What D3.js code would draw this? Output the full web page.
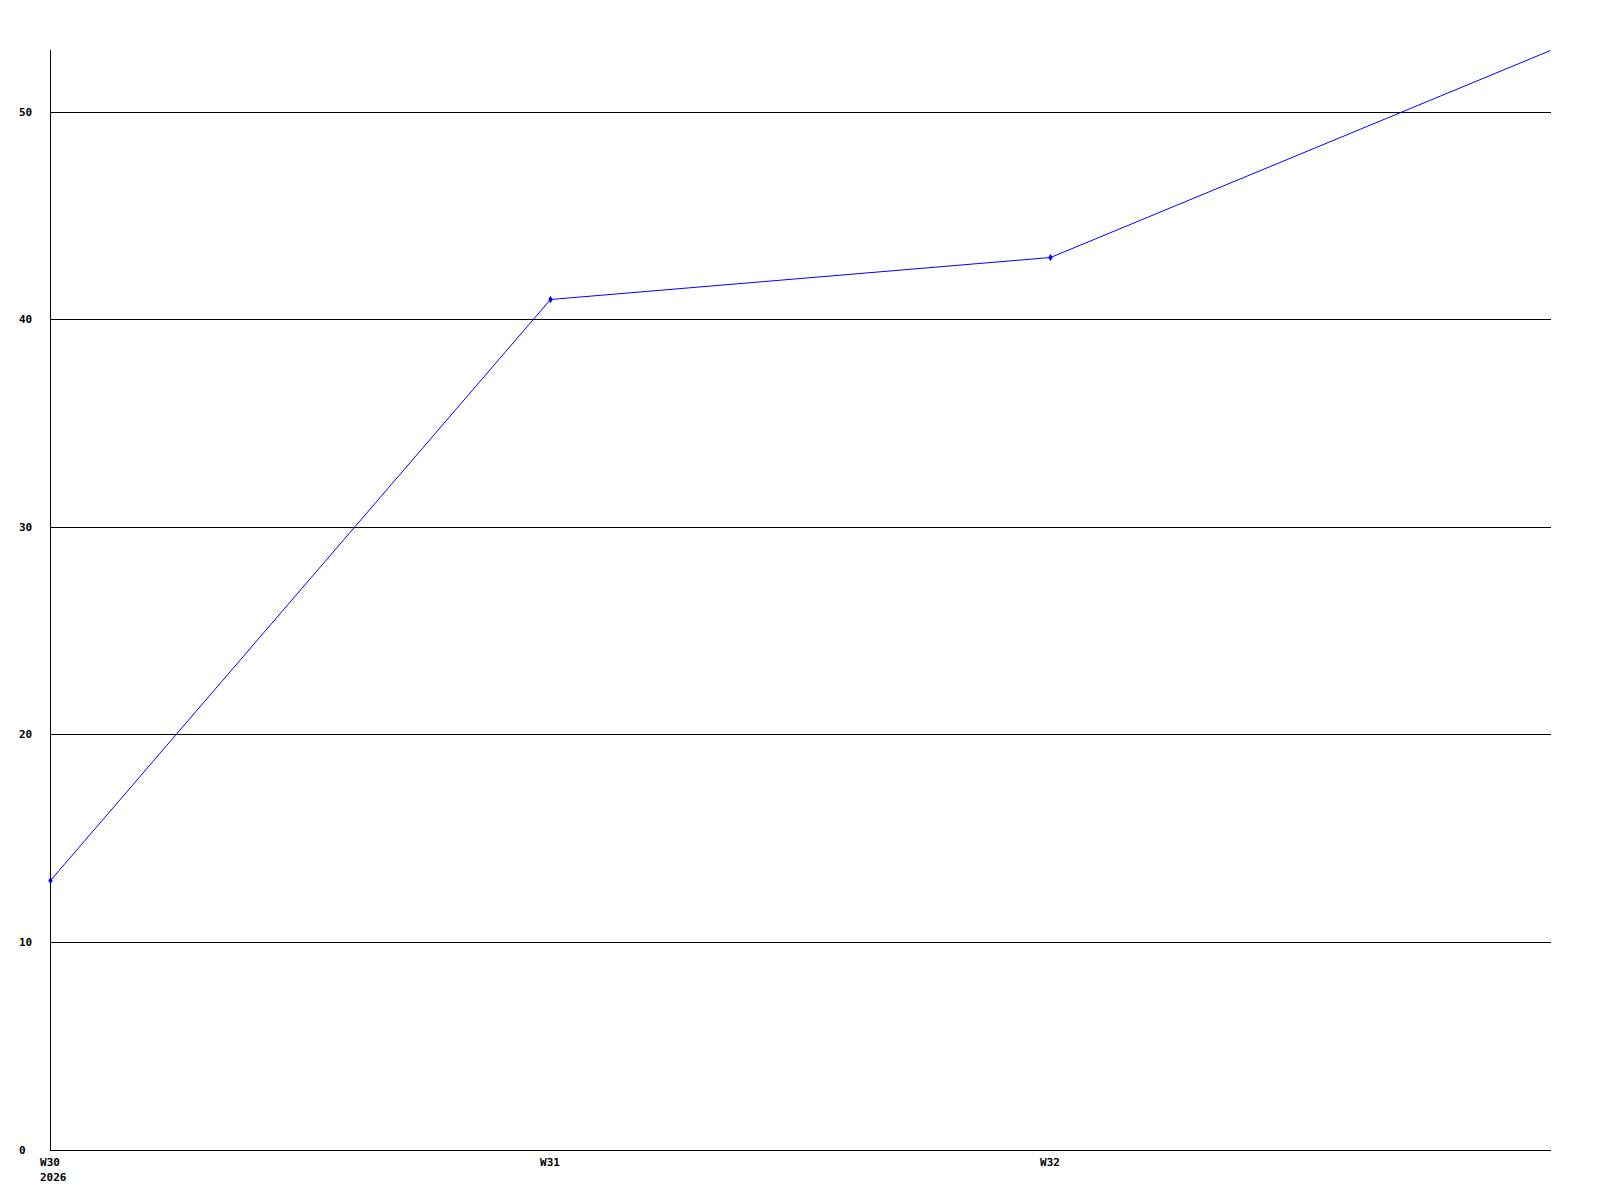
<!DOCTYPE html>
<html>
<head>
<meta charset="utf-8">
<script src="https://cdn.jsdelivr.net/npm/d3@7"></script>
<style>
  html, body { margin: 0; padding: 0; background: #fff; }
  svg { display: block; }
  text { font-family: "DejaVu Sans Mono", "Liberation Mono", monospace; font-weight: bold; font-size: 11px; fill: #000; }
</style>
</head>
<body>
<svg id="chart" width="1600" height="1200"></svg>
<script>
const weekIndex = [0, 1, 2, 3];
const values = [13, 41, 43, 53];
const markerShown = [true, true, true, false];
const xTickValues = [0, 1, 2];
const xTickLabels = ["W30", "W31", "W32"];
const yearLabel = "2026";
const yTickValues = [0, 10, 20, 30, 40, 50];

const svg = d3.select("#chart");
const x = d3.scaleLinear().domain([0, 3]).range([50, 1550]);
const y = d3.scaleLinear().domain([0, 53]).range([1150, 50]);
const py = v => Math.floor(y(v)) + 0.5;

// gridlines
svg.append("g").selectAll("line")
  .data(yTickValues.filter(v => v > 0))
  .join("line")
  .attr("x1", x(0)).attr("x2", x(3) + 1)
  .attr("y1", d => py(d)).attr("y2", d => py(d))
  .attr("stroke", "#000").attr("stroke-width", 1);

// axes lines
svg.append("line").attr("x1", x(0) + 0.5).attr("x2", x(0) + 0.5)
  .attr("y1", y(53)).attr("y2", py(0)).attr("stroke", "#000");
svg.append("line").attr("x1", x(0)).attr("x2", x(3) + 1)
  .attr("y1", py(0)).attr("y2", py(0)).attr("stroke", "#000");

// y labels
svg.append("g").selectAll("text")
  .data(yTickValues)
  .join("text")
  .attr("x", 19)
  .attr("y", d => Math.floor(y(d)) + 4)
  .text(d => d);

// x labels
svg.append("g").selectAll("text")
  .data(xTickValues)
  .join("text")
  .attr("x", d => x(d))
  .attr("y", 1166)
  .attr("text-anchor", "middle")
  .text((d, i) => xTickLabels[i]);
svg.append("text").attr("x", x(0) - 10).attr("y", 1181).text(yearLabel);

// line
const pts = weekIndex.map((w, i) => ({ w, v: values[i], m: markerShown[i] }));
svg.append("path")
  .datum(pts)
  .attr("fill", "none")
  .attr("stroke", "#0000ff")
  .attr("stroke-width", 1)
  .attr("d", d3.line().x(d => x(d.w) + 0.5).y(d => py(d.v)));

svg.append("g").selectAll("path")
  .data(pts.filter(d => d.m))
  .join("path")
  .attr("transform", d => `translate(${x(d.w) + 0.5},${py(d.v)})`)
  .attr("d", d3.symbol().type(d3.symbolDiamond).size(16))
  .attr("fill", "#0000ff");
</script>
</body>
</html>
